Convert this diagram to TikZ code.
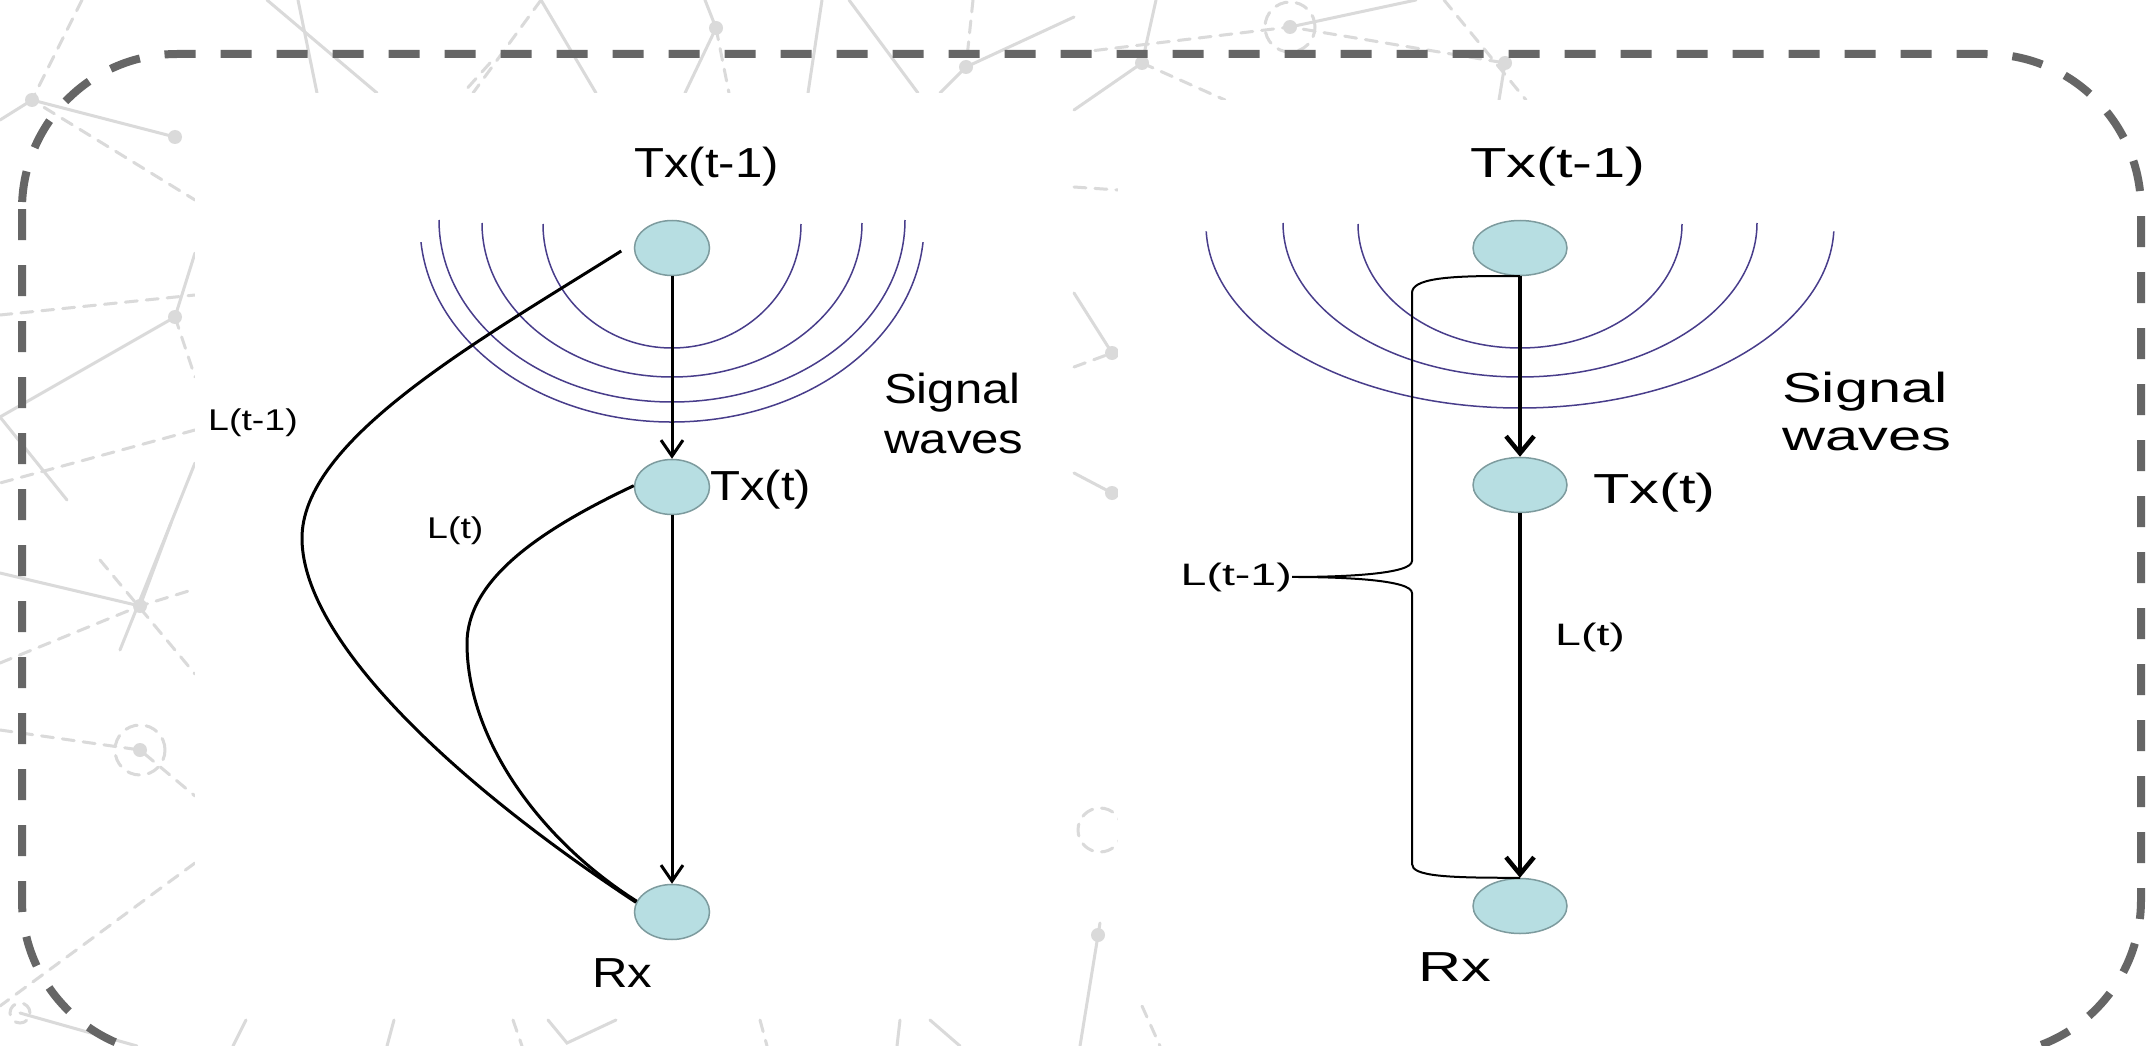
\documentclass[tikz,border=0pt]{standalone}
\usepackage{fontspec}
\usetikzlibrary{arrows.meta,shapes.geometric}
\newfontfamily\fA[FakeStretch=1.17]{Liberation Sans}
\newfontfamily\fB[FakeStretch=1.25]{Liberation Sans}
\newfontfamily\fC[FakeStretch=1.42]{Liberation Sans}
\newfontfamily\fD[FakeStretch=1.5]{Liberation Sans}
\definecolor{bord}{RGB}{102,102,102}
\definecolor{netc}{RGB}{218,218,218}
\definecolor{wavec}{RGB}{72,61,139}
\definecolor{nfill}{RGB}{183,222,226}
\definecolor{ndraw}{RGB}{125,155,158}
\begin{document}
\begin{tikzpicture}[x=1pt,y=-1pt,
  net/.style={draw=netc, line width=3pt, line cap=round},
  netd/.style={net, dash pattern=on 12pt off 9pt},
  tnode/.style={ellipse, draw=ndraw, fill=nfill, line width=1.5pt, minimum height=55pt, inner sep=0pt},
  lA/.style={inner sep=0pt, anchor=base west, font=\fA\fontsize{42}{50}\selectfont},
  lB/.style={inner sep=0pt, anchor=base west, font=\fB\fontsize{30}{36}\selectfont},
  lC/.style={inner sep=0pt, anchor=base west, font=\fC\fontsize{42}{50}\selectfont},
  lD/.style={inner sep=0pt, anchor=base west, font=\fD\fontsize{31}{36}\selectfont},
  arrL/.style={line width=3pt, -{Straight Barb[length=16pt,width=22pt]}},
  arrR/.style={line width=4.5pt, -{Straight Barb[length=17pt,width=28pt]}},
  curv/.style={line width=3pt},
  bracel/.style={line width=2pt},
  wave/.style={draw=wavec, line width=1.5pt},
  frame/.style={draw=bord, line width=8pt, dash pattern=on 31pt off 25pt, rounded corners=155pt}
]
\useasboundingbox (0,0) rectangle (2148,1046);
\fill[white] (0,0) rectangle (2148,1046);
% background network
\draw[net] (0,120) -- (32,100) -- (175,137);
\draw[netd] (82,0) -- (32,100) -- (195,200);
\draw[net] (267,0) -- (377,93);
\draw[net] (298,0) -- (317,93);
\draw[netd] (490,63) -- (463,93);
\draw[net] (195,253) -- (175,317) -- (0,417);
\draw[netd] (0,315) -- (195,295);
\draw[netd] (175,317) -- (195,377);
\draw[netd] (195,430) -- (0,483);
\draw[net] (0,417) -- (67,500);
\draw[net] (195,463) -- (120,650);
\draw[net] (0,573) -- (140,606) -- (171,523);
\draw[netd] (0,663) -- (140,606) -- (195,589);
\draw[netd] (100,560) -- (195,674);
\draw[netd] (140,750) circle[radius=25pt];
\draw[netd] (0,730) -- (140,750) -- (195,796);
\draw[netd] (195,863) -- (0,1006);
\draw[net] (20,1013) -- (137,1046);
\draw[netd] (20,1013) circle[radius=10pt];
\draw[net] (246,1020) -- (233,1046);
\draw[net] (394,1020) -- (387,1046);
\draw[netd] (513,1020) -- (522,1046);
\draw[net] (548,1020) -- (567,1043) -- (616,1020);
\draw[netd] (760,1020) -- (767,1046);
\draw[net] (900,1020) -- (897,1046);
\draw[net] (930,1020) -- (960,1046);
\draw[net] (1100,923) -- (1080,1046);
\draw[netd] (1142,1006) -- (1160,1046);
\draw[netd] (1100,830) circle[radius=22pt];
\draw[net] (541,0) -- (596,93);
\draw[netd] (541,0) -- (473,93);
\draw[net] (705,0) -- (716,28) -- (685,93);
\draw[netd] (716,28) -- (729,93);
\draw[net] (822,0) -- (808,93);
\draw[net] (849,0) -- (918,93);
\draw[netd] (973,0) -- (966,67);
\draw[net] (1074,17) -- (966,67) -- (940,93);
\draw[net] (1156,0) -- (1142,63) -- (1074,110);
\draw[netd] (1074,53) -- (1290,27) -- (1505,63);
\draw[netd] (1290,27) circle[radius=25pt];
\draw[net] (1290,27) -- (1416,0);
\draw[netd] (1444,0) -- (1526,100);
\draw[net] (1505,63) -- (1499,100);
\draw[netd] (1142,63) -- (1225,100);
\draw[netd] (1074,187) -- (1118,190);
\draw[net] (1074,293) -- (1112,353);
\draw[netd] (1074,367) -- (1112,353);
\draw[net] (1074,473) -- (1112,493);
\foreach \p in {(32,100),(175,137),(175,317),(140,606),(140,750),(716,28),(966,67),(1142,63),(1290,27),(1505,63),(1112,353),(1112,493),(1098,935)}
  \fill[netc] \p circle[radius=7pt];
% white image areas
\fill[white] (195,93) rectangle (1072,1018);
\fill[white] (1118,100) rectangle (2148,1005);
% dashed frame
\draw[frame] (22,54) rectangle (2141,1055);
% ---------------- left panel
\draw[wave] (543,224) arc[start angle=180, end angle=0, x radius=129, y radius=124];
\draw[wave] (482,223) arc[start angle=180, end angle=0, x radius=190, y radius=154];
\draw[wave] (439,220) arc[start angle=180, end angle=0, x radius=233, y radius=182];
\path (672,225) ++(175:252 and 197) coordinate (w4);
\draw[wave] (w4) arc[start angle=175, end angle=5, x radius=252, y radius=197];
\node[tnode, minimum width=75pt] (A) at (672,248) {};
\node[tnode, minimum width=75pt] (B) at (672,487) {};
\node[tnode, minimum width=75pt] (C) at (672,912) {};
\node[lA] (tA) at (634,178) {Tx(t-1)};
\node[lA] (tB) at (710,500) {Tx(t)};
\node[lA] (sg) at (884,403) {Signal};
\node[lA] (wv) at (884,453) {waves};
\node[lB] (l1) at (208,430) {L(t-1)};
\node[lB] (l2) at (427,538) {L(t)};
\node[lA] (tC) at (592,987) {Rx};
\draw[arrL] (A) -- (B);
\draw[arrL] (B) -- (C);
\coordinate (a1) at ([xshift=-12.5pt,yshift=-3pt]A.west);
\draw[curv] (a1) .. controls (480,340) and (300,440) .. (302,540) .. controls (304,640) and (450,780) .. (C.165);
\draw[curv] (B.178) .. controls (540,530) and (466,580) .. (467,645) .. controls (468,740) and (540,840) .. (C.163);
% ---------------- right panel
\draw[wave] (1358,224) arc[start angle=180, end angle=0, x radius=162, y radius=124];
\draw[wave] (1283,223) arc[start angle=180, end angle=0, x radius=237, y radius=154];
\path (1520,225) ++(178:314 and 183) coordinate (w7);
\draw[wave] (w7) arc[start angle=178, end angle=2, x radius=314, y radius=183];
\node[tnode, minimum width=94pt] (A2) at (1520,248) {};
\node[tnode, minimum width=94pt] (B2) at (1520,485) {};
\node[tnode, minimum width=94pt] (C2) at (1520,906) {};
\node[lC] (tA2) at (1470,178) {Tx(t-1)};
\node[lC] (tB2) at (1593,503) {Tx(t)};
\node[lC] (sg2) at (1782,402) {Signal};
\node[lC] (wv2) at (1782,450) {waves};
\node[lD] (l4) at (1555,645) {L(t)};
\node[lD, anchor=base east] (l3) at (1292,585) {L(t-1)};
\node[lC] (tC2) at (1418,981) {Rx};
\draw[arrR] (A2) -- (B2);
\draw[arrR] (B2) -- (C2);
\draw[bracel] (A2.south) .. controls (1445,275) and (1412,279) .. (1412,293)
  -- (1412,561) .. controls (1412,574) and (1345,577) .. (l3.east)
  .. controls (1345,577) and (1412,580) .. (1412,593)
  -- (1412,864) .. controls (1412,876) and (1445,878) .. (C2.north);
\end{tikzpicture}
\end{document}
